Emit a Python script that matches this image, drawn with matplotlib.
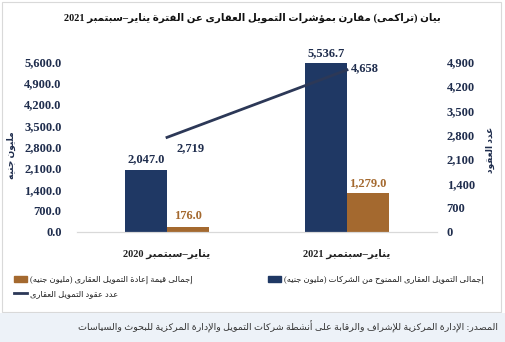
#!/usr/bin/env python3
"""
Cumulative real-estate finance indicators, Jan-Sep 2020 vs 2021 (Arabic chart).
"""

import re

import matplotlib
matplotlib.use("Agg")
import matplotlib.pyplot as plt
from matplotlib.lines import Line2D
from matplotlib.patches import Patch, Rectangle

# data
periods = ["يناير–سبتمبر 2020", "يناير–سبتمبر 2021"]
finance_granted = [2047.0, 5536.7]      # مليون جنيه
refinance_value = [176.0, 1279.0]       # مليون جنيه
contracts = [2719, 4658]                # عدد العقود

left_ticks = [0, 700, 1400, 2100, 2800, 3500, 4200, 4900, 5600]
right_ticks = [0, 700, 1400, 2100, 2800, 3500, 4200, 4900]

title = "بيان (تراكمى) مقارن بمؤشرات التمويل العقارى عن الفترة يناير–سبتمبر 2021"
left_label = "مليون جنيه"
right_label = "عدد العقود"
lbl_granted = "إجمالى التمويل العقارى الممنوح من الشركات (مليون جنيه)"
lbl_refin = "إجمالى قيمة إعادة التمويل العقارى (مليون جنيه)"
lbl_contracts = "عدد عقود التمويل العقارى"
source = ("المصدر: الإدارة المركزية للإشراف والرقابة على أنشطة شركات التمويل "
          "والإدارة المركزية للبحوث والسياسات")

NAVY = "#1f3864"
BROWN = "#a4692f"
LINE = "#2c3857"
TXT = "#1f2d4d"

# --- minimal arabic shaping (matplotlib has no bidi / joining) ---
# (isolated, final, initial, medial)
FORMS = {
    "ا": ("\ufe8d", "\ufe8e", None, None),
    "أ": ("\ufe83", "\ufe84", None, None),
    "إ": ("\ufe87", "\ufe88", None, None),
    "ؤ": ("\ufe85", "\ufe86", None, None),
    "ب": ("\ufe8f", "\ufe90", "\ufe91", "\ufe92"),
    "ة": ("\ufe93", "\ufe94", None, None),
    "ت": ("\ufe95", "\ufe96", "\ufe97", "\ufe98"),
    "ج": ("\ufe9d", "\ufe9e", "\ufe9f", "\ufea0"),
    "ح": ("\ufea1", "\ufea2", "\ufea3", "\ufea4"),
    "د": ("\ufea9", "\ufeaa", None, None),
    "ر": ("\ufead", "\ufeae", None, None),
    "ز": ("\ufeaf", "\ufeb0", None, None),
    "س": ("\ufeb1", "\ufeb2", "\ufeb3", "\ufeb4"),
    "ش": ("\ufeb5", "\ufeb6", "\ufeb7", "\ufeb8"),
    "ص": ("\ufeb9", "\ufeba", "\ufebb", "\ufebc"),
    "ط": ("\ufec1", "\ufec2", "\ufec3", "\ufec4"),
    "ع": ("\ufec9", "\ufeca", "\ufecb", "\ufecc"),
    "ف": ("\ufed1", "\ufed2", "\ufed3", "\ufed4"),
    "ق": ("\ufed5", "\ufed6", "\ufed7", "\ufed8"),
    "ك": ("\ufed9", "\ufeda", "\ufedb", "\ufedc"),
    "ل": ("\ufedd", "\ufede", "\ufedf", "\ufee0"),
    "م": ("\ufee1", "\ufee2", "\ufee3", "\ufee4"),
    "ن": ("\ufee5", "\ufee6", "\ufee7", "\ufee8"),
    "ه": ("\ufee9", "\ufeea", "\ufeeb", "\ufeec"),
    "و": ("\ufeed", "\ufeee", None, None),
    "ى": ("\ufeef", "\ufef0", None, None),
    "ي": ("\ufef1", "\ufef2", "\ufef3", "\ufef4"),
}
LAMALEF = {"ا": ("\ufefb", "\ufefc"), "أ": ("\ufef7", "\ufef8"),
           "إ": ("\ufef9", "\ufefa"), "آ": ("\ufef5", "\ufef6")}


def _shape(s: str) -> str:
    units = []
    i = 0
    while i < len(s):
        c = s[i]
        if c == "ل" and i + 1 < len(s) and s[i + 1] in LAMALEF:
            units.append(("la", s[i + 1]))
            i += 2
            continue
        units.append(("ch", c))
        i += 1

    def is_letter(u):
        return u is not None and (u[0] == "la" or u[1] in FORMS)

    def dual(u):
        return u is not None and u[0] == "ch" and u[1] in FORMS and FORMS[u[1]][2] is not None

    out = []
    for k, u in enumerate(units):
        prev = units[k - 1] if k > 0 else None
        nxt = units[k + 1] if k + 1 < len(units) else None
        if not is_letter(u):
            out.append(u[1])
            continue
        jp = dual(prev)
        if u[0] == "la":
            out.append(LAMALEF[u[1]][1 if jp else 0])
            continue
        jn = dual(u) and is_letter(nxt)
        f = FORMS[u[1]]
        if jp and jn:
            out.append(f[3])
        elif jp:
            out.append(f[1])
        elif jn:
            out.append(f[2])
        else:
            out.append(f[0])
    return "".join(out)


def ar(s: str) -> str:
    v = _shape(s)[::-1]
    v = v.translate({ord("("): ")", ord(")"): "("})
    return re.sub(r"[0-9][0-9,.]*", lambda m: m.group(0)[::-1], v)


FAM = ["Liberation Serif", "DejaVu Sans"]

fig = plt.figure(figsize=(5.05, 3.42), dpi=100)
fig.patch.set_facecolor("white")

# frame + source band
fig.add_artist(Rectangle((0.004, 30 / 342), 0.988, 1 - 30 / 342 - 0.006,
                         transform=fig.transFigure, fill=False,
                         edgecolor="#d9d9d9", lw=0.8))
fig.add_artist(Rectangle((0, 0), 1, 29 / 342, transform=fig.transFigure,
                         facecolor="#edf2f8", edgecolor="none"))

ax = fig.add_axes([77 / 505, 110 / 342, 360 / 505, 170.5 / 342])
ax2 = ax.twinx()

x = [0, 1]
w = 0.233
b1 = ax.bar([i - w / 2 for i in x], finance_granted, width=w, color=NAVY)
b2 = ax.bar([i + w / 2 for i in x], refinance_value, width=w, color=BROWN)
ax.bar_label(b1, labels=[f"{v:,.1f}" for v in finance_granted], padding=3,
             color=TXT, fontsize=9, fontweight="bold", family=FAM)
ax.bar_label(b2, labels=[f"{v:,.1f}" for v in refinance_value], padding=3,
             color=BROWN, fontsize=9, fontweight="bold", family=FAM)

ax2.plot(x, contracts, color=LINE, lw=2)
ax2.annotate(f"{contracts[0]:,}", (x[0], contracts[0]), xytext=(17, -8),
             textcoords="offset points", ha="center", va="center",
             color=TXT, fontsize=9, fontweight="bold", family=FAM)
ax2.annotate(f"{contracts[1]:,}", (x[1], contracts[1]), xytext=(13, 1),
             textcoords="offset points", ha="center", va="center",
             color=TXT, fontsize=9, fontweight="bold", family=FAM)

ax.set_xlim(-0.5, 1.5)
ax.set_ylim(0, 5600)
ax2.set_ylim(0, 4900)
ax.set_yticks(left_ticks)
ax.set_yticklabels([f"{t:,.1f}" for t in left_ticks])
ax2.set_yticks(right_ticks)
ax2.set_yticklabels([f"{t:,}" for t in right_ticks])
ax.set_xticks(x)
ax.set_xticklabels([ar(p) for p in periods])

for a in (ax, ax2):
    for s in ("top", "left", "right"):
        a.spines[s].set_visible(False)
    a.spines["bottom"].set_color("#d9d9d9")
    a.tick_params(length=0)
ax.tick_params(axis="y", pad=11)
ax2.tick_params(axis="y", pad=7)
ax.tick_params(axis="x", pad=12)
for lab in ax.get_yticklabels() + ax2.get_yticklabels():
    lab.set_family(FAM)
    lab.set_fontweight("bold")
    lab.set_fontsize(9)
    lab.set_color(TXT)
for lab in ax.get_xticklabels():
    lab.set_family(FAM)
    lab.set_fontweight("bold")
    lab.set_fontsize(7.5)
    lab.set_color("#222222")

fig.text(11 / 505, 1 - 155 / 342, ar(left_label), rotation=90, ha="center",
         va="center", fontsize=6.5, fontweight="bold", color=TXT, family=FAM)
fig.text(490 / 505, 1 - 150 / 342, ar(right_label), rotation=90, ha="center",
         va="center", fontsize=6.5, fontweight="bold", color=TXT, family=FAM)

fig.text(0.5, 1 - 18 / 342, ar(title), ha="center", va="center",
         fontsize=7.4, fontweight="bold", color="#111111", family=FAM)

# legend (patch on the left of each entry)
leg_kw = dict(frameon=False, handlelength=1.5, handleheight=0.8,
              handletextpad=0.4, labelspacing=0.7, borderaxespad=0,
              borderpad=0, labelcolor="#222222",
              prop={"family": FAM, "size": 6})
fig.legend(handles=[Patch(color=BROWN, label=ar(lbl_refin)),
                    Line2D([], [], color=LINE, lw=2, label=ar(lbl_contracts))],
           loc="upper left", bbox_to_anchor=(14 / 505, 1 - 276 / 342), **leg_kw)
fig.legend(handles=[Patch(color=NAVY, label=ar(lbl_granted))],
           loc="upper left", bbox_to_anchor=(268 / 505, 1 - 276 / 342), **leg_kw)

fig.text(498 / 505, 1 - 327 / 342, ar(source), ha="right", va="center",
         fontsize=6.8, color="#333333", family=FAM)

fig.savefig("out.png", dpi=100)
